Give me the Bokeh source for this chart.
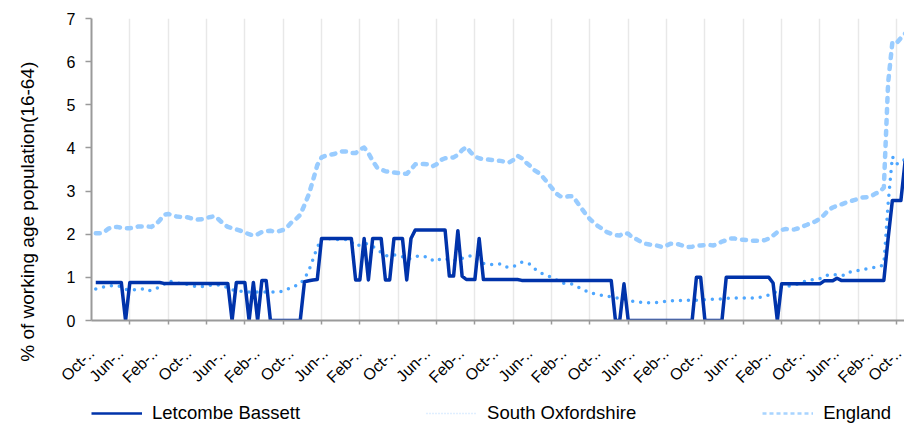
import math
from bokeh.plotting import figure
from bokeh.layouts import column
from bokeh.models import Range1d, FixedTicker, Legend, LegendItem
from bokeh.embed import file_html
from bokeh.resources import INLINE

# monthly index: 0 = Oct 2004
months = list(range(191))

letcombe = [
    0.88, 0.88, 0.88, 0.88, 0.88, 0.88, 0.88, 0, 0.88, 0.88,
    0.88, 0.88, 0.88, 0.88, 0.88, 0.88, 0.86, 0.86, 0.86, 0.86,
    0.86, 0.86, 0.86, 0.86, 0.86, 0.86, 0.86, 0.86, 0.86, 0.86,
    0.86, 0.86, 0, 0.88, 0.88, 0.88, 0, 0.88, 0, 0.93,
    0.93, 0, 0, 0, 0, 0, 0, 0, 0, 0.90,
    0.92, 0.94, 0.95, 1.90, 1.90, 1.90, 1.90, 1.90, 1.90, 1.90,
    1.90, 0.94, 0.94, 1.90, 0.94, 1.90, 1.90, 1.90, 0.94, 0.94,
    1.90, 1.90, 1.90, 0.94, 1.90, 2.10, 2.10, 2.10, 2.10, 2.10,
    2.10, 2.10, 2.10, 1.03, 1.03, 2.08, 1.03, 0.95, 0.95, 0.95,
    1.90, 0.95, 0.95, 0.95, 0.95, 0.95, 0.95, 0.95, 0.95, 0.95,
    0.93, 0.93, 0.93, 0.93, 0.93, 0.93, 0.93, 0.93, 0.93, 0.93,
    0.93, 0.93, 0.93, 0.93, 0.93, 0.93, 0.93, 0.93, 0.93, 0.93,
    0.93, 0.93, 0, 0, 0.85, 0, 0, 0, 0, 0,
    0, 0, 0, 0, 0, 0, 0, 0, 0, 0,
    0, 1.0, 1.0, 0, 0, 0, 0, 0, 1.0, 1.0,
    1.0, 1.0, 1.0, 1.0, 1.0, 1.0, 1.0, 1.0, 1.0, 0.87,
    0, 0.85, 0.85, 0.85, 0.85, 0.85, 0.85, 0.85, 0.85, 0.85,
    0.85, 0.92, 0.92, 0.92, 0.98, 0.93, 0.93, 0.93, 0.93, 0.93,
    0.93, 0.93, 0.93, 0.93, 0.93, 0.93, 1.90, 2.78, 2.78, 2.78,
    3.70,
]

south_oxon = [
    0.73, 0.75, 0.78, 0.80, 0.81, 0.81, 0.78, 0.72, 0.71, 0.71,
    0.72, 0.73, 0.68, 0.70, 0.73, 0.78, 0.84, 0.92, 0.90, 0.87,
    0.86, 0.85, 0.82, 0.80, 0.78, 0.79, 0.81, 0.82, 0.83, 0.82,
    0.81, 0.75, 0.71, 0.69, 0.68, 0.66, 0.66, 0.66, 0.66, 0.66,
    0.66, 0.66, 0.66, 0.66, 0.68, 0.72, 0.78, 0.81, 0.84, 0.98,
    1.15, 1.42, 1.70, 1.88, 1.94, 1.89, 1.88, 1.88, 1.88, 1.88,
    1.82, 1.72, 1.75, 1.79, 1.77, 1.72, 1.65, 1.58, 1.50, 1.51,
    1.52, 1.50, 1.48, 1.42, 1.44, 1.48, 1.50, 1.48, 1.47, 1.40,
    1.37, 1.44, 1.43, 1.41, 1.40, 1.39, 1.44, 1.48, 1.50, 1.45,
    1.40, 1.32, 1.30, 1.30, 1.30, 1.31, 1.25, 1.23, 1.25, 1.30,
    1.35, 1.34, 1.30, 1.20, 1.12, 1.08, 1.04, 1.00, 0.95, 0.88,
    0.86, 0.86, 0.84, 0.79, 0.73, 0.69, 0.64, 0.62, 0.60, 0.58,
    0.56, 0.55, 0.53, 0.51, 0.50, 0.47, 0.45, 0.43, 0.42, 0.41,
    0.41, 0.41, 0.42, 0.43, 0.45, 0.46, 0.46, 0.46, 0.47, 0.47,
    0.46, 0.47, 0.48, 0.48, 0.49, 0.49, 0.49, 0.50, 0.51, 0.52,
    0.52, 0.52, 0.52, 0.52, 0.52, 0.52, 0.54, 0.56, 0.59, 0.63,
    0.68, 0.78, 0.80, 0.80, 0.82, 0.85, 0.89, 0.93, 0.94, 0.95,
    0.97, 1.02, 1.06, 1.06, 1.06, 1.05, 1.05, 1.12, 1.15, 1.16,
    1.18, 1.20, 1.22, 1.23, 1.25, 1.30, 2.70, 3.80, 3.63, 3.65,
    3.75,
]

england = [
    2.02, 2.02, 2.05, 2.13, 2.17, 2.17, 2.15, 2.14, 2.14, 2.15,
    2.18, 2.18, 2.18, 2.17, 2.22, 2.32, 2.45, 2.47, 2.44, 2.41,
    2.40, 2.40, 2.38, 2.35, 2.34, 2.35, 2.38, 2.40, 2.42, 2.33,
    2.24, 2.17, 2.14, 2.11, 2.08, 2.04, 2.00, 1.97, 2.00, 2.05,
    2.07, 2.08, 2.06, 2.07, 2.10, 2.17, 2.28, 2.35, 2.45, 2.68,
    2.92, 3.25, 3.60, 3.78, 3.82, 3.84, 3.86, 3.90, 3.92, 3.92,
    3.88, 3.88, 3.96, 4.01, 3.88, 3.70, 3.55, 3.50, 3.46, 3.45,
    3.43, 3.42, 3.41, 3.40, 3.50, 3.62, 3.63, 3.63, 3.62, 3.57,
    3.62, 3.72, 3.76, 3.77, 3.78, 3.84, 3.95, 4.02, 3.90, 3.80,
    3.76, 3.74, 3.73, 3.72, 3.71, 3.70, 3.68, 3.66, 3.72, 3.82,
    3.76, 3.66, 3.58, 3.48, 3.42, 3.32, 3.20, 3.08, 2.95, 2.88,
    2.86, 2.88, 2.88, 2.74, 2.60, 2.47, 2.35, 2.26, 2.18, 2.12,
    2.05, 2.01, 1.98, 1.97, 2.03, 2.01, 1.92, 1.88, 1.82, 1.78,
    1.76, 1.75, 1.73, 1.70, 1.74, 1.78, 1.78, 1.76, 1.73, 1.70,
    1.71, 1.73, 1.74, 1.75, 1.75, 1.74, 1.78, 1.83, 1.86, 1.90,
    1.90, 1.88, 1.87, 1.86, 1.85, 1.85, 1.85, 1.86, 1.90, 1.97,
    2.05, 2.10, 2.12, 2.11, 2.11, 2.14, 2.18, 2.22, 2.26, 2.30,
    2.36, 2.45, 2.56, 2.62, 2.66, 2.69, 2.73, 2.76, 2.79, 2.82,
    2.85, 2.86, 2.88, 2.94, 2.98, 3.08, 5.50, 6.45, 6.43, 6.55,
    6.65,
]

label_months = [0, 8, 16, 24, 32, 40, 48, 56, 64, 72, 80, 88, 96, 104,
                112, 120, 128, 136, 144, 152, 160, 168, 176, 184, 192]
tick_labels = ["Oct-..", "Jun-..", "Feb-..", "Oct-..", "Jun-..", "Feb-..",
               "Oct-..", "Jun-..", "Feb-..", "Oct-..", "Jun-..", "Feb-..",
               "Oct-..", "Jun-..", "Feb-..", "Oct-..", "Jun-..", "Feb-..",
               "Oct-..", "Jun-..", "Feb-..", "Oct-..", "Jun-..", "Feb-..",
               "Oct-.."]
grid_positions = [8, 17, 26, 35, 44, 53, 62, 71, 80, 89, 98, 107, 116, 125,
                  134, 143, 152, 161, 170, 179, 188]
y_ticks = [0, 1, 2, 3, 4, 5, 6, 7]

FONT = "Liberation Sans"
AXIS_GREY = "#9a9a9a"
NBSP = "\u00a0"
X_START = -1
X_END = 189.85
# rotated labels sit a little left of their month, as in the reference
LABEL_SHIFT = -2.2
label_positions = [min(X_END, max(X_START, m + LABEL_SHIFT)) for m in label_months]

MAIN_H = 395
LEG_H = 30

p = figure(width=904, height=MAIN_H, x_range=Range1d(X_START, X_END), y_range=Range1d(0, 7),
           output_backend="svg", toolbar_location=None,
           min_border_left=91, min_border_right=0, min_border_top=18,
           min_border_bottom=MAIN_H - 320)
p.outline_line_color = None
p.background_fill_color = "white"

p.ygrid.grid_line_color = None
p.xgrid.ticker = FixedTicker(ticks=grid_positions)
p.xgrid.grid_line_color = "#e8e8e8"
p.xgrid.grid_line_width = 1.5

xa = p.xaxis[0]
xa.ticker = FixedTicker(ticks=label_positions, minor_ticks=grid_positions)
xa.major_label_overrides = {pos: lab for pos, lab in zip(label_positions, tick_labels)}
xa.major_tick_line_color = None
xa.major_tick_out = 0
xa.major_tick_in = 0
xa.minor_tick_line_color = AXIS_GREY
xa.minor_tick_line_width = 1.5
xa.minor_tick_in = 0
xa.minor_tick_out = 4
xa.axis_line_color = AXIS_GREY
xa.axis_line_width = 2
xa.major_label_orientation = math.pi / 4
xa.major_label_text_font = FONT
xa.major_label_text_font_size = "16px"
xa.major_label_text_color = "black"
xa.major_label_standoff = 26

ya = p.yaxis[0]
ya.ticker = FixedTicker(ticks=y_ticks)
ya.major_tick_line_color = AXIS_GREY
ya.major_tick_line_width = 1.5
ya.major_tick_out = 6
ya.major_tick_in = 0
ya.minor_tick_line_color = None
ya.axis_line_color = AXIS_GREY
ya.axis_line_width = 2
ya.major_label_text_font = FONT
ya.major_label_text_font_size = "16px"
ya.major_label_text_color = "black"
ya.major_label_standoff = 10
# trailing no-break spaces move the visible title below the plot centre, as in the reference
ya.axis_label = "% of working age population(16-64)" + NBSP * 16
ya.axis_label_text_font = FONT
ya.axis_label_text_font_size = "19px"
ya.axis_label_text_font_style = "normal"
ya.axis_label_text_color = "black"
ya.axis_label_standoff = 26

p.line(months, england, line_color="#99ccff", line_width=4.5, line_dash="4 7",
       line_cap="round", line_join="round")
p.line(months, south_oxon, line_color="#4da6ff", line_width=3.5, line_dash="0 8",
       line_cap="round", line_join="round")
p.line(months, letcombe, line_color="#0033aa", line_width=3.5, line_join="round")

# ---- legend strip below the chart (its own small figure, no axes) ----
lg = figure(width=904, height=LEG_H, x_range=Range1d(-20, -19), y_range=Range1d(0, 7),
            output_backend="svg", toolbar_location=None,
            x_axis_type=None, y_axis_type=None,
            min_border_left=0, min_border_right=0, min_border_top=0, min_border_bottom=0)
lg.outline_line_color = None
lg.xgrid.grid_line_color = None
lg.ygrid.grid_line_color = None
# same series, drawn outside this strip's visible range: only their legend swatches show
s1 = lg.line(months, letcombe, line_color="#0033aa", line_width=2.5)
s2 = lg.line(months, south_oxon, line_color="#c2e0ff", line_width=1.5, line_dash="1 2")
s3 = lg.line(months, england, line_color="#a8d4ff", line_width=2.5, line_dash="4 3")

legend = Legend(items=[LegendItem(label="Letcombe Bassett", renderers=[s1]),
                       LegendItem(label="South Oxfordshire", renderers=[s2]),
                       LegendItem(label="England", renderers=[s3])],
                orientation="horizontal", location=(0, 1),
                glyph_width=51, glyph_height=20, label_standoff=10,
                label_width=20, label_height=20, spacing=126,
                padding=0, margin=0, border_line_color=None,
                background_fill_alpha=0,
                label_text_font=FONT, label_text_font_size="18.5px",
                label_text_color="black")
lg.add_layout(legend, "center")

layout = column(p, lg, spacing=0)
open("out.html", "w").write(file_html(layout, INLINE))
